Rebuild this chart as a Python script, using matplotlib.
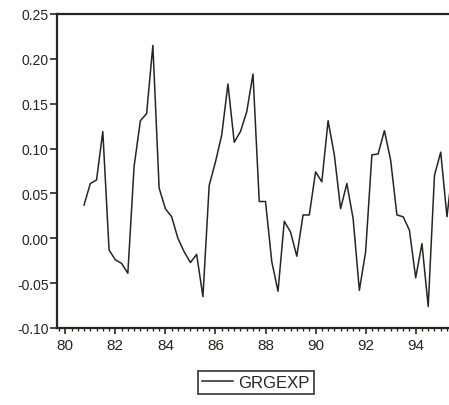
import numpy as np
import matplotlib
matplotlib.use('Agg')
import matplotlib.pyplot as plt
from matplotlib.ticker import MultipleLocator

# quarterly growth series
start_year = 80.75
grgexp = [0.037, 0.061, 0.065, 0.119, -0.013, -0.024, -0.028, -0.039,
          0.080, 0.131, 0.139, 0.215, 0.056, 0.033, 0.024, 0.000,
          -0.015, -0.027, -0.018, -0.065, 0.059, 0.085, 0.115, 0.172,
          0.107, 0.119, 0.141, 0.183, 0.041, 0.041, -0.026, -0.059,
          0.019, 0.007, -0.020, 0.026, 0.026, 0.074, 0.063, 0.131,
          0.093, 0.033, 0.061, 0.022, -0.058, -0.015, 0.093, 0.094,
          0.120, 0.087, 0.026, 0.024, 0.009, -0.044, -0.006, -0.076,
          0.070, 0.096, 0.024, 0.085]
year_ticks = [80, 82, 84, 86, 88, 90, 92, 94]
y_ticks = [-0.10, -0.05, 0.00, 0.05, 0.10, 0.15, 0.20, 0.25]

years = start_year + 0.25 * np.arange(len(grgexp))

ink = '#26261f'
plt.rcParams['font.family'] = ['Liberation Sans', 'DejaVu Sans']

fig = plt.figure(figsize=(4.49, 4.06), dpi=100)
# axes run past the right edge, the scan is cropped there
ax = fig.add_axes([57/449, 77/406, 410/449, 314/406])

ax.plot(years, grgexp, color=ink, lw=1.1, label='GRGEXP')

ax.set_xlim(79.67, 96.05)
ax.set_ylim(-0.10, 0.25)
ax.set_xticks(year_ticks)
ax.set_xticklabels([str(y) for y in year_ticks], fontsize=11, color=ink)
ax.xaxis.set_minor_locator(MultipleLocator(0.25))
ax.set_yticks(y_ticks)
ax.set_yticklabels(['{:.2f}'.format(v) for v in y_ticks], fontsize=10, color=ink)

ax.tick_params(axis='x', which='major', direction='out', length=4, width=1.2, color=ink, pad=3)
ax.tick_params(axis='x', which='minor', direction='out', length=2.5, width=1.0, color=ink)
ax.tick_params(axis='y', direction='out', length=5, width=1.2, color=ink, pad=1)

for s in ['left', 'bottom', 'top']:
    ax.spines[s].set_linewidth(1.6)
    ax.spines[s].set_color(ink)
ax.spines['right'].set_visible(False)

leg = ax.legend(loc='upper center', bbox_to_anchor=(0.485, -0.137), borderaxespad=0,
                fancybox=False, fontsize=12, handlelength=1.9, handletextpad=0.3,
                borderpad=0.25, labelcolor=ink)
leg.get_frame().set_edgecolor(ink)
leg.get_frame().set_linewidth(1.4)

plt.savefig('out.png', dpi=100)
